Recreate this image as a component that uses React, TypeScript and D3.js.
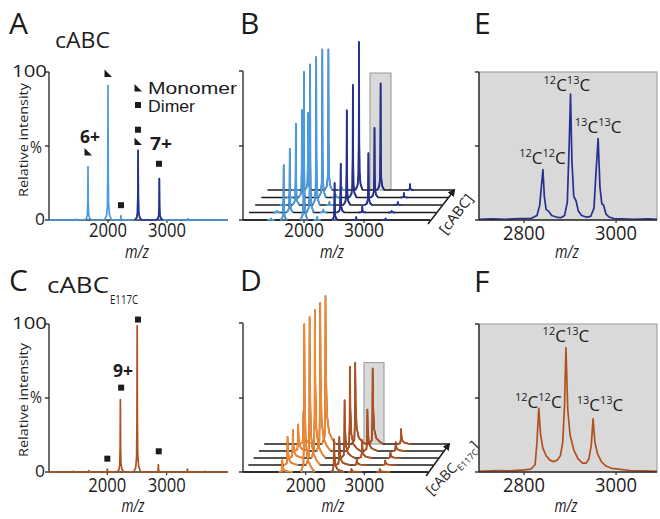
import * as d3 from "d3";

type Pt = [number, number];

const FONT = "'Open Sans', 'Noto Sans', sans-serif";
const FONT_TIGHT = "'Liberation Sans', Arial, sans-serif";
const INK = "#1c1c1c";
const AXIS = "#2e2e2e";
const LIGHT_BLUE = "#4a9be0";
const NAVY = "#26308e";
const ORANGE = "#f5872d";
const BROWN = "#b0521f";
const BOX_FILL = "#d9d9d9";
const BOX_EDGE = "#a3a3a3";

// A: cABC native spectrum
const A_DOMAIN = [1000, 4034];
const A_PEAK_MZ = [1450, 1661, 2000, 2220, 2510, 2870, 3360];
const A_PEAK_INT = [0.6, 36, 91, 3, 47, 28, 1];
const A_DARK_MZ = [2380, 3050];
const A_MONOMER_MZ = [1661, 2000, 2508];
const A_MONOMER_AT = [46, 99, 53];
const A_DIMER_MZ = [2220, 2508, 2864];
const A_DIMER_AT = [10, 61, 38];

// B: cABC concentration series, front -> back
const B_DOMAIN = [983, 4100];
const B_PEAK_MZ = [1450, 1661, 2000, 2220, 2510, 2870, 3360];
const B_TRACE_1 = [1, 37, 100, 2, 25, 2, 1];
const B_TRACE_2 = [1, 43, 100, 2, 33, 4, 1];
const B_TRACE_3 = [1, 55, 100, 2, 64, 35, 2];
const B_TRACE_4 = [1, 59, 100, 2, 76, 47, 3];
const B_TRACE_5 = [1, 52, 95, 2, 100, 72, 4];
const B_TRACES = [B_TRACE_1, B_TRACE_2, B_TRACE_3, B_TRACE_4, B_TRACE_5];
const B_DARK_FROM = 2350;
const B_BOX_MZ = [2693, 3043];
const B_BOX_TOP = 79;

// C: cABC E117C spectrum
const C_DOMAIN = [1000, 4034];
const C_PEAK_MZ = [1430, 1690, 2000, 2220, 2503, 2860, 3350, 3650];
const C_PEAK_INT = [0.5, 1, 2, 49, 99, 5, 2, 0.5];
const C_DIMER_MZ = [2517, 2233, 2000, 2867];
const C_DIMER_AT = [103, 57, 9, 14];

// D: cABC E117C concentration series, front -> back
const D_DOMAIN = [930, 4087];
const D_PEAK_MZ = [1600, 1976, 2483, 2781, 3265];
const D_TRACE_1 = [8, 100, 22, 2, 2];
const D_TRACE_2 = [19, 100, 19, 4, 3];
const D_TRACE_3 = [19, 100, 39, 12, 4];
const D_TRACE_4 = [18, 100, 57, 28, 6];
const D_TRACE_5 = [22, 100, 55, 51, 10];
const D_TRACES = [D_TRACE_1, D_TRACE_2, D_TRACE_3, D_TRACE_4, D_TRACE_5];
const D_LIGHT_TO = 2300;
const D_BOX_MZ = [2633, 2974];
const D_BOX_TOP = 55;

// E, F: isotope detail of the boxed peak
const ISO_DOMAIN = [2702, 3089];
const E_MZ = [2702, 2730, 2760, 2790, 2815, 2828, 2834, 2838, 2841, 2844, 2848, 2853, 2860, 2870, 2880, 2888, 2894, 2898, 2901, 2904, 2908, 2913, 2918, 2925, 2935, 2945, 2952, 2956, 2961, 2965, 2969, 2973, 2978, 2985, 2995, 3010, 3040, 3070, 3089];
const E_INT = [0.5, 0.8, 0.5, 1, 1, 3, 10, 24, 34, 16, 7, 6, 3, 2, 1.5, 3, 12, 50, 85, 40, 16, 13, 6, 3, 2, 2.5, 8, 30, 55, 22, 11, 10, 4, 2, 1, 0.8, 0.5, 0.7, 0.5];
const F_MZ = [2702, 2740, 2770, 2800, 2815, 2824, 2828, 2832, 2836, 2841, 2848, 2856, 2864, 2872, 2879, 2884, 2888, 2891, 2895, 2900, 2908, 2917, 2927, 2935, 2941, 2946, 2950, 2954, 2960, 2968, 2978, 2990, 3005, 3030, 3060, 3089];
const F_INT = [0.5, 1, 0.8, 1.5, 2, 5, 20, 43, 25, 16, 11, 8, 7, 8, 11, 20, 45, 84, 42, 25, 15, 9, 6, 6, 9, 18, 36, 20, 12, 7, 4, 2.5, 2, 1, 0.8, 0.5];
const ISO_NAMES = [["12", "12"], ["12", "13"], ["13", "13"]];
const E_LABEL_MZ = [2840, 2893, 2961];
const E_LABEL_AT = [38, 87, 59];
const F_LABEL_MZ = [2831, 2891, 2965];
const F_LABEL_AT = [43, 88, 41];

const TICKS_WIDE = [2000, 3000];
const TICKS_ISO = [2800, 3000];

// peak shapes (m/z offset, fraction of apex)
const NARROW = [[-60, 0], [-25, 0.03], [-10, 0.1], [-4, 0.35], [0, 1], [4, 0.35], [10, 0.12], [25, 0.04], [60, 0]];
const TAILED = [[-60, 0], [-15, 0.05], [-5, 0.3], [0, 1], [8, 0.5], [25, 0.2], [60, 0.08], [120, 0.03], [180, 0]];

function peakPts(mz: number, h: number, profile: number[][]): Pt[] {
  return profile.map(([o, r]) => [mz + o, h * r] as Pt);
}

function spectrum(domain: number[], mzs: number[], ints: number[], profile: number[][]): Pt[] {
  const pts: Pt[] = [[domain[0], 0]];
  mzs.forEach((mz, i) => pts.push(...peakPts(mz, ints[i], profile)));
  pts.push([domain[1], 0]);
  return pts.sort((a, b) => a[0] - b[0]);
}

function Label({ x, y, children, size = 18, anchor = "start", width, weight, italic, rotate, family }: any) {
  return (
    <text
      x={x}
      y={y}
      fontSize={size}
      fontFamily={family}
      textAnchor={anchor}
      textLength={width}
      lengthAdjust={width ? "spacingAndGlyphs" : undefined}
      fontWeight={weight}
      fontStyle={italic ? "italic" : undefined}
      transform={rotate ? `rotate(${rotate} ${x} ${y})` : undefined}
    >
      {children}
    </text>
  );
}

const tri = (x: number, y: number) => `M${x - 3.5},${y - 4}L${x - 3.5},${y + 3.5}L${x + 4},${y + 3.5}Z`;
const Square = ({ x, y }: { x: number; y: number }) => <rect x={x - 3} y={y - 3} width={6} height={6} fill={INK} />;

function YAxis({ x, y0, y1, ticks }: { x: number; y0: number; y1: number; ticks: number[] }) {
  return (
    <g stroke={AXIS} strokeWidth={1.4}>
      <line x1={x} x2={x} y1={y0} y2={y1} />
      {ticks.map((t) => <line key={t} x1={x - 4} x2={x} y1={t} y2={t} />)}
    </g>
  );
}

function XAxis({ scale, y, x0, x1, ticks, labelY, widths }: any) {
  return (
    <g>
      <line x1={x0} x2={x1} y1={y} y2={y} stroke={AXIS} strokeWidth={1.4} />
      {ticks.map((t: number) => (
        <line key={t} x1={scale(t)} x2={scale(t)} y1={y} y2={y + 3} stroke={AXIS} strokeWidth={1.2} />
      ))}
      {ticks.map((t: number) => (
        <Label key={`l${t}`} x={scale(t)} y={labelY} size={20} anchor="middle" width={widths}>{t}</Label>
      ))}
    </g>
  );
}

function Waterfall({ x, y, traces, mzs, domain, profile, dx, dy, colorOf, boxMz, boxTop }: any) {
  const line = d3.line<Pt>().x((d) => x(d[0])).y((d) => y(d[1]));
  const n = traces.length;
  const order = d3.range(n).reverse();
  return (
    <g>
      <rect
        x={x(boxMz[0]) + (n - 1) * dx}
        y={y(boxTop) - (n - 1) * dy}
        width={x(boxMz[1]) - x(boxMz[0])}
        height={y(0) - y(boxTop)}
        fill={BOX_FILL}
        stroke={BOX_EDGE}
        strokeWidth={1.2}
      />
      {order.map((i) => {
        const ints = traces[i];
        return (
          <g key={i} transform={`translate(${i * dx},${-i * dy})`} fill="none" strokeLinejoin="round">
            <path d={line(spectrum(domain, mzs, ints, profile)) ?? ""} stroke={INK} strokeWidth={1.4} />
            {mzs.map((mz: number, j: number) => (
              <path key={j} d={line(peakPts(mz, ints[j], profile)) ?? ""} stroke={colorOf(mz)} strokeWidth={1.8} />
            ))}
          </g>
        );
      })}
    </g>
  );
}

function IsoLabel({ x, y, a, b }: { x: number; y: number; a: string; b: string }) {
  return (
    <text x={x} y={y} textAnchor="middle" fontSize={17}>
      <tspan fontSize={11} dy={-7}>{a}</tspan>
      <tspan dy={7}>C</tspan>
      <tspan fontSize={11} dy={-7}>{b}</tspan>
      <tspan dy={7}>C</tspan>
    </text>
  );
}

function IsoPanel({ top, mzs, ints, color, labelMz, labelAt }: any) {
  const x = d3.scaleLinear().domain(ISO_DOMAIN).range([479, 657]);
  const y = d3.scaleLinear().domain([0, 100]).range([top + 148, top]);
  const line = d3.line<number>().x((_, i) => x(mzs[i])).y((v) => y(v));
  return (
    <g>
      <rect x={479} y={top} width={178} height={148} fill={BOX_FILL} stroke={BOX_EDGE} strokeWidth={1.2} />
      <path d={line(ints) ?? ""} fill="none" stroke={color} strokeWidth={1.7} strokeLinejoin="round" />
      <YAxis x={479} y0={top} y1={top + 148} ticks={[top, top + 74, top + 148]} />
      <XAxis scale={x} y={top + 148} x0={479} x1={657} ticks={TICKS_ISO} labelY={top + 168} widths={42} />
      {ISO_NAMES.map(([a, b], i) => (
        <IsoLabel key={i} x={x(labelMz[i])} y={y(labelAt[i])} a={a} b={b} />
      ))}
    </g>
  );
}

export default function App() {
  const xA = d3.scaleLinear().domain(A_DOMAIN).range([49, 228]);
  const yA = d3.scaleLinear().domain([0, 100]).range([220, 72]);
  const xB = d3.scaleLinear().domain(B_DOMAIN).range([243, 430]);
  const yB = d3.scaleLinear().domain([0, 100]).range([220, 72]);
  const xC = d3.scaleLinear().domain(C_DOMAIN).range([48, 228]);
  const yC = d3.scaleLinear().domain([0, 100]).range([472, 324]);
  const xD = d3.scaleLinear().domain(D_DOMAIN).range([243, 428]);
  const yD = d3.scaleLinear().domain([0, 100]).range([472, 324]);

  const lineA = d3.line<Pt>().x((d) => xA(d[0])).y((d) => yA(d[1]));
  const lineC = d3.line<Pt>().x((d) => xC(d[0])).y((d) => yC(d[1]));
  const aPts = spectrum(A_DOMAIN, A_PEAK_MZ, A_PEAK_INT, NARROW);
  const aDark = aPts.filter((p) => p[0] >= A_DARK_MZ[0] && p[0] <= A_DARK_MZ[1]);
  const cPts = spectrum(C_DOMAIN, C_PEAK_MZ, C_PEAK_INT, NARROW);

  const bDx = 6.1, bDy = 7.5, dDx = 5.3, dDy = 7;
  const bEnd = xB(B_DOMAIN[1]);
  const dEnd = xD(D_DOMAIN[1]);

  return (
    <svg width={660} height={519} style={{ position: "absolute", left: 0, top: 0, background: "#fff" }} fontFamily={FONT} fill={INK}>
      <defs>
        <marker id="arr" viewBox="0 0 10 10" refX={8} refY={5} markerWidth={5} markerHeight={5} orient="auto">
          <path d="M0,0L10,5L0,10z" fill={INK} />
        </marker>
      </defs>

      {/* ---------- A ---------- */}
      <Label x={9} y={34} size={30}>A</Label>
      <Label x={55} y={48} size={21} width={55}>cABC</Label>
      <Label x={12} y={77} size={17} width={35}>100</Label>
      <Label x={30} y={153} size={17} width={12}>%</Label>
      <Label x={35} y={225} size={17} width={10}>0</Label>
      <Label x={28} y={140} size={13} anchor="middle" width={114} rotate={-90}>Relative intensity</Label>
      <YAxis x={49} y0={72} y1={220} ticks={[72, 146, 220]} />
      <XAxis scale={xA} y={220} x0={49} x1={228} ticks={TICKS_WIDE} labelY={237} widths={38} />
      <path d={lineA(aPts) ?? ""} fill="none" stroke={LIGHT_BLUE} strokeWidth={1.7} strokeLinejoin="round" />
      <path d={lineA(aDark) ?? ""} fill="none" stroke={NAVY} strokeWidth={1.7} strokeLinejoin="round" />
      {A_MONOMER_MZ.map((m, i) => <path key={`m${i}`} d={tri(xA(m), yA(A_MONOMER_AT[i]))} fill={INK} />)}
      {A_DIMER_MZ.map((m, i) => <Square key={`d${i}`} x={xA(m)} y={yA(A_DIMER_AT[i])} />)}
      <path d={tri(138, 88)} fill={INK} />
      <Square x={138} y={105} />
      <Label x={148} y={94} size={17} width={89} family={FONT_TIGHT}>Monomer</Label>
      <Label x={148} y={112} size={17} width={47} family={FONT_TIGHT}>Dimer</Label>
      <Label x={80} y={143} size={17} weight="bold" width={20}>6+</Label>
      <Label x={150} y={150} size={17} weight="bold" width={22}>7+</Label>
      <Label x={137} y={258} size={19} anchor="middle" italic width={24}>m/z</Label>

      {/* ---------- B ---------- */}
      <Label x={240} y={34} size={30}>B</Label>
      <YAxis x={243} y0={71} y1={220} ticks={[71, 146, 220]} />
      <XAxis scale={xB} y={220} x0={243} x1={430} ticks={TICKS_WIDE} labelY={237} widths={40} />
      <Waterfall x={xB} y={yB} traces={B_TRACES} mzs={B_PEAK_MZ} domain={B_DOMAIN} profile={NARROW} dx={bDx} dy={bDy}
        colorOf={(m: number) => (m < B_DARK_FROM ? LIGHT_BLUE : NAVY)} boxMz={B_BOX_MZ} boxTop={B_BOX_TOP} />
      <line x1={bEnd - 2} y1={224} x2={bEnd + 4 * bDx} y2={220 - 4 * bDy} stroke={INK} strokeWidth={1.5} markerEnd="url(#arr)" />
      <g transform="translate(456,214) rotate(-52)">
        <text textAnchor="middle" fontSize={14} dy="0.35em" textLength={46} lengthAdjust="spacingAndGlyphs">[cABC]</text>
      </g>
      <Label x={332} y={258} size={19} anchor="middle" italic width={24}>m/z</Label>

      {/* ---------- E ---------- */}
      <Label x={474} y={34} size={30}>E</Label>
      <IsoPanel top={72} mzs={E_MZ} ints={E_INT} color={NAVY} labelMz={E_LABEL_MZ} labelAt={E_LABEL_AT} />
      <Label x={567} y={258} size={19} anchor="middle" italic width={24}>m/z</Label>

      {/* ---------- C ---------- */}
      <Label x={9} y={291} size={30}>C</Label>
      <Label x={47} y={293} size={21} width={62}>cABC</Label>
      <Label x={110} y={304} size={12} width={28}>E117C</Label>
      <Label x={12} y={329} size={17} width={35}>100</Label>
      <Label x={30} y={403} size={17} width={12}>%</Label>
      <Label x={35} y={477} size={17} width={10}>0</Label>
      <Label x={28} y={400} size={13} anchor="middle" width={114} rotate={-90}>Relative intensity</Label>
      <YAxis x={49} y0={324} y1={472} ticks={[324, 398, 472]} />
      <XAxis scale={xC} y={472} x0={49} x1={228} ticks={TICKS_WIDE} labelY={492} widths={38} />
      <path d={lineC(cPts) ?? ""} fill="none" stroke={BROWN} strokeWidth={1.7} strokeLinejoin="round" />
      {C_DIMER_MZ.map((m, i) => <Square key={`c${i}`} x={xC(m)} y={yC(C_DIMER_AT[i])} />)}
      <Label x={113} y={377} size={17} weight="bold" width={20}>9+</Label>
      <Label x={133} y={512} size={18} anchor="middle" italic width={23}>m/z</Label>

      {/* ---------- D ---------- */}
      <Label x={240} y={291} size={30}>D</Label>
      <YAxis x={243} y0={323} y1={472} ticks={[323, 398, 472]} />
      <XAxis scale={xD} y={472} x0={243} x1={428} ticks={TICKS_WIDE} labelY={492} widths={40} />
      <Waterfall x={xD} y={yD} traces={D_TRACES} mzs={D_PEAK_MZ} domain={D_DOMAIN} profile={TAILED} dx={dDx} dy={dDy}
        colorOf={(m: number) => (m < D_LIGHT_TO ? ORANGE : BROWN)} boxMz={D_BOX_MZ} boxTop={D_BOX_TOP} />
      <line x1={dEnd - 2} y1={476} x2={dEnd + 4 * dDx} y2={472 - 4 * dDy} stroke={INK} strokeWidth={1.5} markerEnd="url(#arr)" />
      <g transform="translate(452,468) rotate(-46)">
        <text textAnchor="middle" fontSize={14} dy="0.35em">
          [cABC<tspan fontSize={9} dy={4}>E117C</tspan><tspan dy={-4}>]</tspan>
        </text>
      </g>
      <Label x={333} y={512} size={18} anchor="middle" italic width={23}>m/z</Label>

      {/* ---------- F ---------- */}
      <Label x={474} y={292} size={30}>F</Label>
      <IsoPanel top={324} mzs={F_MZ} ints={F_INT} color={BROWN} labelMz={F_LABEL_MZ} labelAt={F_LABEL_AT} />
      <Label x={566} y={512} size={18} anchor="middle" italic width={23}>m/z</Label>
    </svg>
  );
}
